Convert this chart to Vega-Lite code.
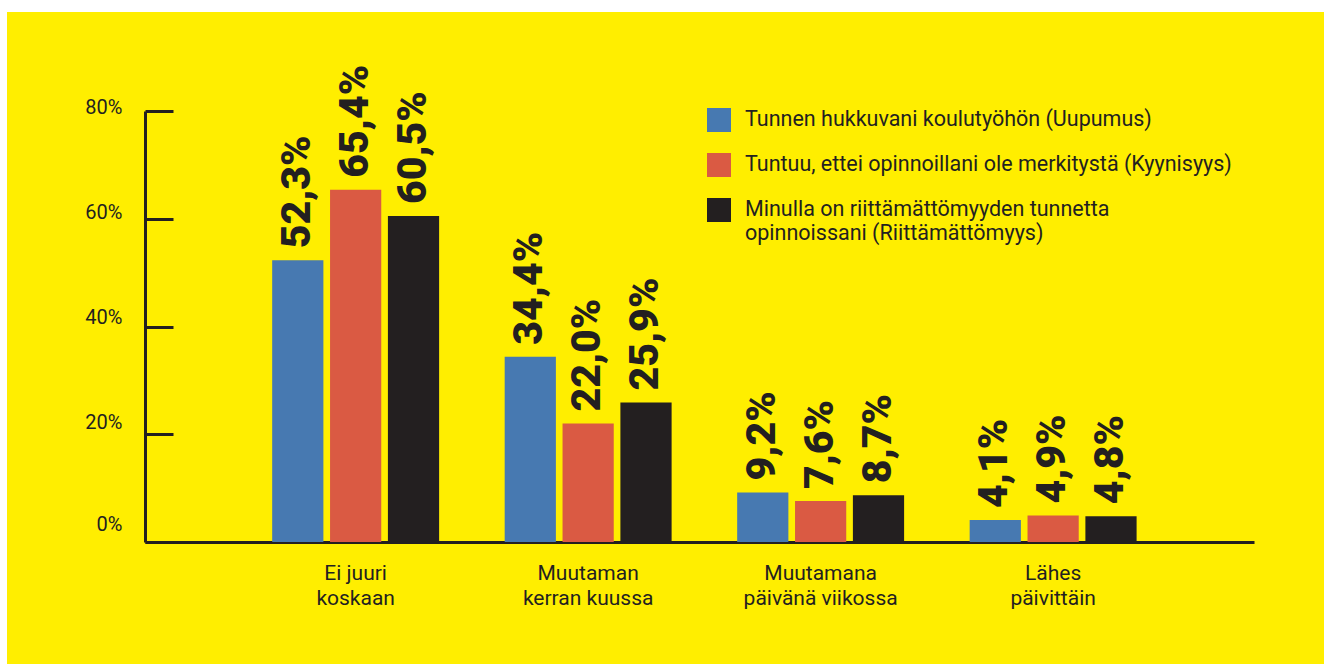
{
  "$schema": "https://vega.github.io/schema/vega-lite/v6.json",
  "width": 1317,
  "height": 652,
  "autosize": "none",
  "padding": {"left": 7, "top": 12, "right": 0, "bottom": 0},
  "background": "#ffffff",
  "config": {
    "locale": {"number": {"decimal": ",", "thousands": " ", "grouping": [3], "currency": ["", " €"]}},
    "view": {"fill": "#FFEE00", "stroke": null},
    "font": "Roboto"
  },
  "data": {
    "values": [
      {"vastaus": "Ei juuri koskaan", "sarja": "Tunnen hukkuvani koulutyöhön (Uupumus)", "osuus": 0.523},
      {"vastaus": "Ei juuri koskaan", "sarja": "Tuntuu, ettei opinnoillani ole merkitystä (Kyynisyys)", "osuus": 0.654},
      {"vastaus": "Ei juuri koskaan", "sarja": "Minulla on riittämättömyyden tunnetta opinnoissani (Riittämättömyys)", "osuus": 0.605},
      {"vastaus": "Muutaman kerran kuussa", "sarja": "Tunnen hukkuvani koulutyöhön (Uupumus)", "osuus": 0.344},
      {"vastaus": "Muutaman kerran kuussa", "sarja": "Tuntuu, ettei opinnoillani ole merkitystä (Kyynisyys)", "osuus": 0.220},
      {"vastaus": "Muutaman kerran kuussa", "sarja": "Minulla on riittämättömyyden tunnetta opinnoissani (Riittämättömyys)", "osuus": 0.259},
      {"vastaus": "Muutamana päivänä viikossa", "sarja": "Tunnen hukkuvani koulutyöhön (Uupumus)", "osuus": 0.092},
      {"vastaus": "Muutamana päivänä viikossa", "sarja": "Tuntuu, ettei opinnoillani ole merkitystä (Kyynisyys)", "osuus": 0.076},
      {"vastaus": "Muutamana päivänä viikossa", "sarja": "Minulla on riittämättömyyden tunnetta opinnoissani (Riittämättömyys)", "osuus": 0.087},
      {"vastaus": "Lähes päivittäin", "sarja": "Tunnen hukkuvani koulutyöhön (Uupumus)", "osuus": 0.041},
      {"vastaus": "Lähes päivittäin", "sarja": "Tuntuu, ettei opinnoillani ole merkitystä (Kyynisyys)", "osuus": 0.049},
      {"vastaus": "Lähes päivittäin", "sarja": "Minulla on riittämättömyyden tunnetta opinnoissani (Riittämättömyys)", "osuus": 0.048}
    ]
  },
  "encoding": {
    "x": {
      "field": "vastaus",
      "type": "nominal",
      "sort": null,
      "scale": {"range": [138, 1247], "paddingInner": 0.282, "paddingOuter": 0.526, "align": 0.52},
      "axis": {
        "orient": "bottom",
        "offset": -122,
        "title": null,
        "ticks": false,
        "domainColor": "#231F20",
        "domainWidth": 3,
        "labelAngle": 0,
        "labelPadding": 20,
        "labelFontSize": 21,
        "labelFont": "Roboto",
        "labelColor": "#231F20",
        "labelLineHeight": 25,
        "labelBaseline": "top",
        "labelExpr": "datum.label == 'Ei juuri koskaan' ? ['Ei juuri', 'koskaan'] : [slice(datum.label, 0, indexof(datum.label, ' ')), slice(datum.label, indexof(datum.label, ' ') + 1)]"
      }
    },
    "xOffset": {"field": "sarja", "type": "nominal", "sort": null, "scale": {"paddingInner": 0.115, "paddingOuter": 0}},
    "y": {
      "field": "osuus",
      "type": "quantitative",
      "scale": {"domain": [0, 0.8], "range": [530, 99], "nice": false, "zero": true},
      "axis": {
        "orient": "left",
        "offset": -138,
        "title": null,
        "grid": false,
        "format": ".0%",
        "values": [0, 0.2, 0.4, 0.6, 0.8],
        "domainColor": "#231F20",
        "domainWidth": 3,
        "tickColor": "#231F20",
        "tickWidth": 3,
        "tickSize": -28,
        "labelPadding": 51,
        "labelFontSize": 20,
        "labelFont": "Roboto",
        "labelColor": "#231F20",
        "labelOffset": {
          "condition": [
            {"test": "datum.value < 0.1", "value": -18},
            {"test": "datum.value < 0.3", "value": -12},
            {"test": "datum.value < 0.5", "value": -9},
            {"test": "datum.value < 0.7", "value": -6}
          ],
          "value": -4
        }
      }
    }
  },
  "layer": [
    {
      "mark": {"type": "bar"},
      "encoding": {
        "color": {
          "field": "sarja",
          "type": "nominal",
          "sort": null,
          "scale": {
            "domain": [
              "Tunnen hukkuvani koulutyöhön (Uupumus)",
              "Tuntuu, ettei opinnoillani ole merkitystä (Kyynisyys)",
              "Minulla on riittämättömyyden tunnetta opinnoissani (Riittämättömyys)"
            ],
            "range": ["#4779B1", "#DA5A43", "#231F20"]
          },
          "legend": {
            "orient": "none",
            "legendX": 700,
            "legendY": 96,
            "title": null,
            "direction": "vertical",
            "padding": 0,
            "symbolType": "square",
            "symbolSize": 576,
            "symbolStrokeWidth": 0,
            "symbolOpacity": 1,
            "labelFontSize": 21.5,
            "labelFont": "Roboto",
            "labelColor": "#231F20",
            "labelLimit": 800,
            "labelOffset": 14,
            "rowPadding": 21,
            "labelExpr": "indexof(datum.label, 'Minulla') == 0 ? ['Minulla on riittämättömyyden tunnetta', 'opinnoissani (Riittämättömyys)'] : datum.label"
          }
        }
      }
    },
    {
      "mark": {
        "type": "text",
        "angle": 270,
        "align": "left",
        "baseline": "middle",
        "dx": 12,
        "font": "Roboto",
        "fontWeight": 900,
        "fontSize": 41,
        "color": "#231F20"
      },
      "encoding": {
        "text": {"field": "osuus", "type": "quantitative", "format": ".1%"}
      }
    }
  ]
}
